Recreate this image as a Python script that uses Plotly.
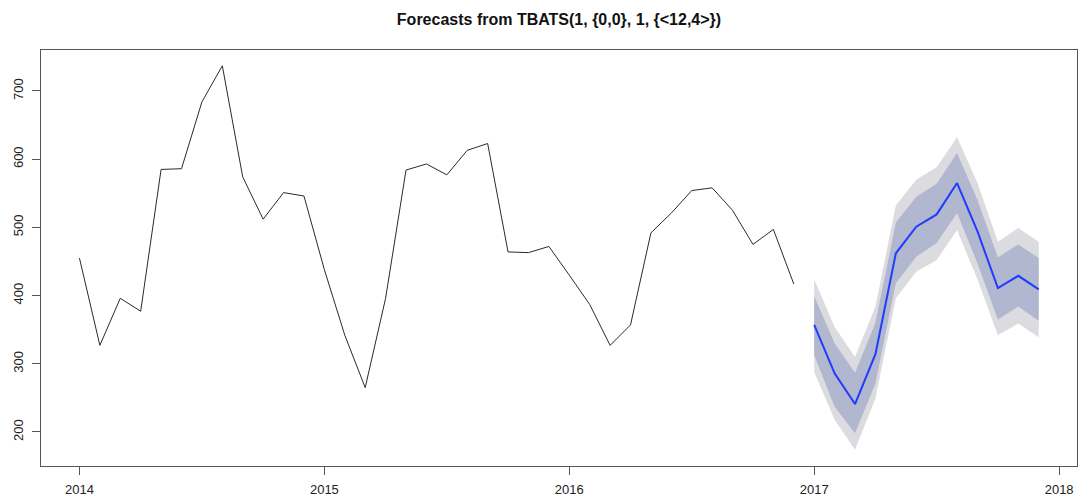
import plotly.graph_objects as go

# Monthly observed series, Jan 2014 - Dec 2016
start_year = 2014
observed = [455, 327, 396, 377, 585, 586, 684, 737, 574, 512, 551, 546,
            438, 342, 265, 396, 584, 593, 577, 613, 623, 464, 463, 472,
            430, 387, 327, 357, 492, 521, 554, 558, 525, 475, 497, 417]

# TBATS forecast, Jan 2017 - Dec 2017
fc_start_year = 2017
fc_mean = [357, 286, 241, 314, 462, 501, 519, 565, 494, 411, 429, 409]
lo80 = [313, 237, 198, 271, 418, 457, 477, 521, 447, 365, 384, 363]
hi80 = [399, 330, 287, 360, 507, 545, 564, 609, 540, 456, 475, 455]
lo95 = [288, 218, 174, 249, 396, 435, 452, 496, 424, 342, 359, 339]
hi95 = [424, 354, 310, 384, 532, 570, 588, 632, 565, 479, 499, 479]

title_text = "Forecasts from TBATS(1, {0,0}, 1, {<12,4>})"
year_ticks = [2014, 2015, 2016, 2017, 2018]
value_ticks = [200, 300, 400, 500, 600, 700]

x_obs = [start_year + i / 12 for i in range(len(observed))]
x_fc = [fc_start_year + i / 12 for i in range(len(fc_mean))]

fig = go.Figure()

# 95% interval band
fig.add_trace(go.Scatter(
    x=x_fc + x_fc[::-1], y=hi95 + lo95[::-1],
    fill="toself", fillcolor="#dbdbe0", line=dict(width=0),
    mode="lines", hoverinfo="skip", showlegend=False))

# 80% interval band
fig.add_trace(go.Scatter(
    x=x_fc + x_fc[::-1], y=hi80 + lo80[::-1],
    fill="toself", fillcolor="#b0b7cf", line=dict(width=0),
    mode="lines", hoverinfo="skip", showlegend=False))

# observed series
fig.add_trace(go.Scatter(
    x=x_obs, y=observed, mode="lines",
    line=dict(color="#2a2a2a", width=1), showlegend=False))

# point forecasts
fig.add_trace(go.Scatter(
    x=x_fc, y=fc_mean, mode="lines",
    line=dict(color="#1f3cff", width=2), showlegend=False))

axis_font = dict(family="Liberation Sans, Arial, sans-serif", size=13, color="#222222")

fig.update_layout(
    width=1084, height=497,
    margin=dict(l=41, r=7, t=50, b=31),
    paper_bgcolor="white", plot_bgcolor="white",
    title=dict(text=f"<b>{title_text}</b>", x=559 / 1084, xanchor="center",
               y=1 - 19 / 497, yanchor="middle",
               font=dict(family="Liberation Sans, Arial, sans-serif", size=16, color="#111111")),
    xaxis=dict(range=[2013.843, 2018.073], tickvals=year_ticks,
               ticktext=[str(v) for v in year_ticks],
               showgrid=False, zeroline=False, automargin=False,
               showline=True, mirror=True, linecolor="#555555", linewidth=1,
               ticks="outside", ticklen=8, tickcolor="#555555",
               ticklabelstandoff=3, tickfont=axis_font),
    yaxis=dict(range=[150.1, 760.1], tickvals=value_ticks,
               ticktext=[str(v) for v in value_ticks],
               showgrid=False, zeroline=False, automargin=False,
               showline=True, mirror=True, linecolor="#555555", linewidth=1,
               ticks="outside", ticklen=8, tickcolor="#555555",
               ticklabelstandoff=4, tickangle=-90, tickfont=axis_font),
)

fig.write_html("out.html")
